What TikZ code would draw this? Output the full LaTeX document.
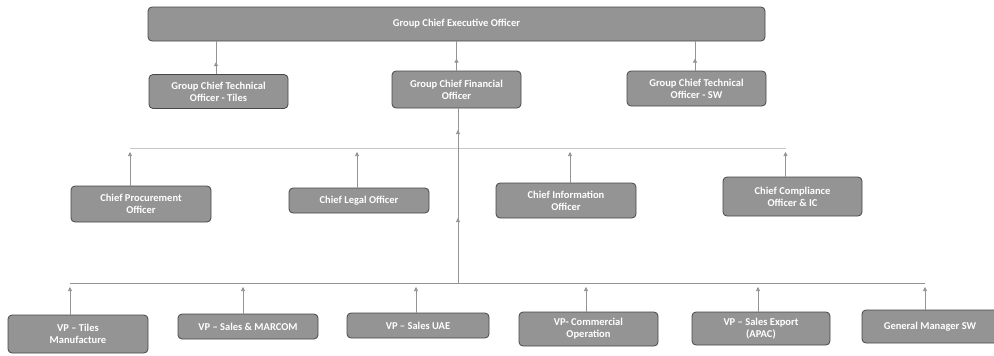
\documentclass[tikz,border=0pt]{standalone}
\usepackage{fontspec}
\setmainfont{Carlito}
\usetikzlibrary{arrows.meta,decorations.markings}

\begin{document}
\begin{tikzpicture}[
    x=1pt, y=-1pt,
    font=\bfseries\fontsize{10.5}{12}\selectfont,
    box/.style={
        rectangle, draw=black!72, line width=0.8pt,
        rounded corners=4pt, align=center,
        fill=black!42, text=white, inner sep=1pt,
        minimum width=140pt, minimum height=35pt
    },
    flat/.style={minimum height=25pt},
    link/.style={black!42, line width=0.6pt},
    faint/.style={black!22, line width=0.6pt},
    arrow/.style={link, -{Triangle[length=4pt,width=4pt]}, shorten >=4pt},
    tipat/.style={link, postaction={decorate},
        decoration={markings, mark=at position #1 with {\arrow{Triangle[length=4pt,width=4pt]}}}},
]
  \useasboundingbox[fill=white] (0,0) rectangle (994,356);

  %––– Top –––––––––––––––––––––––––––––––––––––––––––––––––
  \node (ceo) [box, minimum width=617pt, minimum height=34pt] at (456.5,24) {Group Chief Executive Officer};

  %––– Group officers ––––––––––––––––––––––––––––––––––––––––
  \node (gctot)  [box, minimum width=139pt, minimum height=34pt] at (218.5,91.5) {Group Chief Technical\\Officer - Tiles};
  \node (gcfo)   [box, minimum width=129pt, minimum height=37pt] at (456.5,89.5) {Group Chief Financial\\Officer};
  \node (gctosw) [box, minimum width=139pt] at (696.5,88.5) {Group Chief Technical\\Officer - SW};

  %––– Chief officers ––––––––––––––––––––––––––––––––––––––––
  \node (cpo) [box, minimum height=36pt] at (141,204) {Chief Procurement\\Officer};
  \node (clo) [box, flat] at (359,200.5) {Chief Legal Officer};
  \node (cio) [box] at (566,200.5) {Chief Information\\Officer};
  \node (cco) [box, minimum width=139pt, minimum height=39pt] at (792.5,196.5) {Chief Compliance\\Officer \& IC};

  %––– VPs ––––––––––––––––––––––––––––––––––––––––––––––––––
  \node (vpt)   [box, minimum height=38pt] at (78,334) {VP – Tiles\\Manufacture};
  \node (vpsm)  [box, flat] at (248,326.5) {VP – Sales \& MARCOM};
  \node (vpuae) [box, flat, minimum width=142pt] at (418,325.5) {VP – Sales UAE};
  \node (vpc)   [box, minimum width=139pt, minimum height=34pt] at (588.5,329) {VP- Commercial\\Operation};
  \node (vpe)   [box, minimum width=138pt, minimum height=33pt] at (761,328.5) {VP – Sales Export\\(APAC)};
  \node (gm)    [box, minimum width=136pt, minimum height=33pt] at (930,326.5) {General Manager SW};

  %––– Buses ––––––––––––––––––––––––––––––––––––––––––––––––
  \coordinate (b3w) at (130,148);
  \coordinate (b3e) at (786,148);
  \coordinate (b4w) at (70,283);
  \coordinate (b4e) at (925,283);
  \draw[faint] (b3w) -- (b3e);
  \draw[link] (b4w) -- (b4e);

  %––– Arrows –––––––––––––––––––––––––––––––––––––––––––––––
  \foreach \n/\dx in {gctot/-2.5, gcfo/0, gctosw/-1.5} {
    \path ([xshift=\dx pt]\n.north) coordinate (t);
    \draw[tipat=12pt] (t) -- (t |- ceo.south);
  }
  \foreach \n/\dx in {cpo/-11, clo/-2, cio/4, cco/-7} {
    \path ([xshift=\dx pt]\n.north) coordinate (t);
    \draw[arrow] (t) -- (t |- b3w);
  }
  \foreach \n/\dx in {vpt/-8, vpsm/-5, vpuae/-2, vpc/-2.5, vpe/-3, gm/-5} {
    \path ([xshift=\dx pt]\n.north) coordinate (t);
    \draw[arrow] (t) -- (t |- b4w);
  }
  \path ([xshift=1.5pt]gcfo.south) coordinate (trunk);
  \draw[link, postaction={decorate},
        decoration={markings,
          mark=at position 65pt with {\arrow{Triangle[length=4pt,width=4pt]}},
          mark=at position 153pt with {\arrow{Triangle[length=4pt,width=4pt]}}}]
    (trunk |- b4w) -- (trunk);
\end{tikzpicture}
\end{document}
